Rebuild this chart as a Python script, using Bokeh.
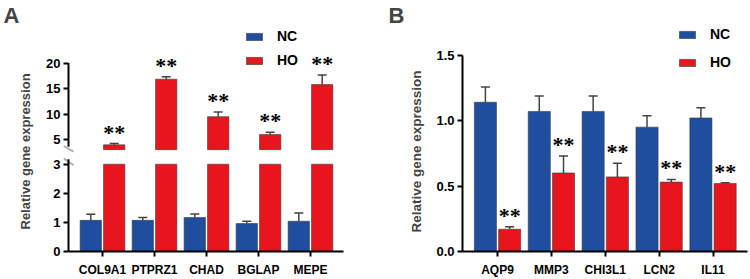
from bokeh.plotting import figure
from bokeh.layouts import row
from bokeh.models import (ColumnDataSource, FixedTicker, Whisker, TeeHead, LabelSet, Title,
                          Legend, LegendItem, Range1d, NumeralTickFormatter, PolyAnnotation)
from bokeh.transform import dodge
from bokeh.embed import file_html
from bokeh.resources import INLINE

# ---------------- data ----------------
genes_a = ["COL9A1", "PTPRZ1", "CHAD", "BGLAP", "MEPE"]
nc_a = [1.07, 1.07, 1.17, 0.96, 1.04]
nc_a_err = [0.21, 0.10, 0.12, 0.08, 0.28]
ho_a = [4.05, 16.85, 9.55, 6.05, 15.8]
ho_a_err = [0.25, 0.50, 0.90, 0.45, 1.85]

genes_b = ["AQP9", "MMP3", "CHI3L1", "LCN2", "IL11"]
nc_b = [1.14, 1.07, 1.07, 0.95, 1.02]
nc_b_err = [0.117, 0.117, 0.117, 0.087, 0.078]
ho_b = [0.17, 0.60, 0.57, 0.53, 0.52]
ho_b_err = [0.02, 0.13, 0.105, 0.02, 0.005]

sig_a = ["**", "**", "**", "**", "**"]
sig_b = ["**", "**", "**", "**", "**"]

ticks_a_low = [0, 1, 2, 3]
ticks_a_high = [5, 10, 15, 20]
ticks_b = [0.0, 0.5, 1.0, 1.5]
series = ["NC", "HO"]
y_title = "Relative gene expression"

# axis break of panel A
low_top = 3.0        # top of lower segment
high_bottom = 3.11   # bottom of upper segment

# ---------------- style ----------------
BLUE = "#1f4e9e"
RED = "#e8161c"
EDGE = "#3a3a3a"
EB = "#444444"
FONT = "Liberation Sans"
OFF = 0.225
BW = 0.41


def style_axis(ax):
    ax.axis_line_width = 2
    ax.axis_line_color = "black"
    ax.major_tick_line_width = 2
    ax.major_tick_line_color = "black"
    ax.major_tick_out = 5
    ax.major_tick_in = 0
    ax.minor_tick_line_color = None
    ax.major_label_text_font = FONT
    ax.major_label_text_font_style = "bold"
    ax.major_label_text_color = "black"
    ax.major_label_standoff = 3


def base_fig(xr, yr, left, right, bottom):
    p = figure(width=375, height=279, output_backend="svg", toolbar_location=None,
               x_range=xr, y_range=yr, min_border_left=left, min_border_right=right,
               min_border_top=24, min_border_bottom=bottom)
    p.grid.visible = False
    p.outline_line_color = None
    for ax in p.axis:
        style_axis(ax)
    p.yaxis.major_label_text_font_size = "13px"
    p.xaxis.major_label_text_font_size = "12px"
    p.xaxis.major_label_standoff = 6
    return p


def panel_title(p, letter, off):
    p.title.text = letter
    p.title.align = "left"
    p.title.offset = off
    p.title.standoff = 0
    p.title.text_font = FONT
    p.title.text_font_size = "22px"
    p.title.text_font_style = "bold"


def side_title(p, size, off, standoff):
    p.add_layout(Title(text=y_title, align="left", offset=off, standoff=standoff,
                       text_font=FONT, text_font_size=size, text_font_style="bold"), "left")


def whiskers(p, x, val, err, off, rng="default"):
    src = ColumnDataSource(dict(x=x, lower=val, upper=[v + e for v, e in zip(val, err)]))
    p.add_layout(Whisker(base=dodge("x", off), lower="lower", upper="upper", source=src,
                         dimension="height", line_color=EB, line_width=1.5, y_range_name=rng,
                         upper_head=TeeHead(size=9, line_color=EB, line_width=1.5),
                         lower_head=None))


def stars(p, x, val, err, sig, off, rng="default"):
    src = ColumnDataSource(dict(x=x, y=[v + e for v, e in zip(val, err)], t=sig))
    p.add_layout(LabelSet(x=dodge("x", off), y="y", text="t", source=src, y_range_name=rng,
                          text_align="center", text_baseline="alphabetic", y_offset=4,
                          text_font=FONT, text_font_size="22px", text_font_style="bold",
                          text_color="black"))


def legend(p, r1, r2, loc, spacing):
    p.add_layout(Legend(items=[LegendItem(label=series[0], renderers=[r1]),
                               LegendItem(label=series[1], renderers=[r2])],
                        location=loc, orientation="vertical", glyph_width=20, glyph_height=9,
                        label_standoff=13, label_text_font=FONT, label_text_font_size="14px",
                        label_text_font_style="bold", label_text_color="black",
                        spacing=spacing, padding=0, margin=0, border_line_color=None,
                        background_fill_alpha=0))


xa = list(range(1, len(genes_a) + 1))
xb = list(range(1, len(genes_b) + 1))

# ================= panel A (broken axis) =================
AX_X = 0.346                 # x where the y axis line of panel A sits
X_END_A = 5.635
TICK_W = 5 / 52              # 5 px in x data units of panel A
lo_rng = Range1d(0, 7.7)
hi_rng = Range1d(-16.74, 26.93)


def hi_to_lo(v):
    return lo_rng.start + (v - hi_rng.start) / (hi_rng.end - hi_rng.start) * (lo_rng.end - lo_rng.start)


pa = base_fig(Range1d(AX_X - TICK_W, X_END_A), lo_rng, 63, 32, 24)
pa.extra_y_ranges = {"high": hi_rng}
panel_title(pa, "A", -60)

src_a = ColumnDataSource(dict(x=xa, nc=nc_a, ho=ho_a,
                              ho_low=[min(v, low_top) for v in ho_a]))
ra1 = pa.vbar(x=dodge("x", -OFF), top="nc", width=BW, source=src_a,
              fill_color=BLUE, line_color=EDGE, line_width=0.6)
ra2 = pa.vbar(x=dodge("x", OFF), top="ho_low", width=BW, source=src_a,
              fill_color=RED, line_color=EDGE, line_width=0.6)
pa.vbar(x=dodge("x", OFF), top="ho", bottom=high_bottom, width=BW, source=src_a,
        fill_color=RED, line_color=EDGE, line_width=0.6, y_range_name="high")

# one y axis carries the ticks of both segments
tick_pos = [float(v) for v in ticks_a_low] + [hi_to_lo(v) for v in ticks_a_high]
tick_lab = [str(v) for v in ticks_a_low + ticks_a_high]
pa.yaxis.ticker = FixedTicker(ticks=tick_pos)
pa.yaxis.major_label_overrides = dict(zip(tick_pos, tick_lab))
pa.yaxis.axis_line_color = None
pa.yaxis.major_tick_out = 0
pa.yaxis.major_tick_in = 5
# the two pieces of the broken axis line
pa.segment(x0=[AX_X], y0=[ticks_a_low[0]], x1=[AX_X], y1=[3.17],
           line_color="black", line_width=2)
pa.segment(x0=[AX_X], y0=[3.68], x1=[AX_X], y1=[ticks_a_high[-1]],
           line_color="black", line_width=2, y_range_name="high")
for ys in ([3.633, 3.433], [3.2, 2.967]):
    pa.add_layout(PolyAnnotation(xs=[AX_X - TICK_W, AX_X + TICK_W], ys=ys, fill_alpha=0,
                                 line_color="black", line_width=2))

pa.xaxis.ticker = FixedTicker(ticks=xa)
pa.xaxis.major_label_overrides = {x: g for x, g in zip(xa, genes_a)}
pa.xaxis.bounds = (AX_X, X_END_A)
side_title(pa, "13px", 22, 22)

whiskers(pa, xa, nc_a, nc_a_err, -OFF)
whiskers(pa, xa, ho_a, ho_a_err, OFF, "high")
stars(pa, xa, ho_a, ho_a_err, sig_a, OFF, "high")
legend(pa, ra1, ra2, (181, 183), 8)

# ================= panel B =================
pb = base_fig(Range1d(0.35, 5.64), Range1d(0, 1.711), 87, 3, 28)
panel_title(pb, "B", -74)
src_b = ColumnDataSource(dict(x=xb, nc=nc_b, ho=ho_b))
rb1 = pb.vbar(x=dodge("x", -OFF), top="nc", width=BW, source=src_b,
              fill_color=BLUE, line_color=EDGE, line_width=0.6)
rb2 = pb.vbar(x=dodge("x", OFF), top="ho", width=BW, source=src_b,
              fill_color=RED, line_color=EDGE, line_width=0.6)
pb.yaxis.ticker = FixedTicker(ticks=ticks_b)
pb.yaxis.bounds = (0, 1.5)
pb.yaxis.formatter = NumeralTickFormatter(format="0.0")
pb.xaxis.ticker = FixedTicker(ticks=xb)
pb.xaxis.major_label_overrides = {x: g for x, g in zip(xb, genes_b)}
side_title(pb, "13.5px", 19, 20)

whiskers(pb, xb, nc_b, nc_b_err, -OFF)
whiskers(pb, xb, ho_b, ho_b_err, OFF)
stars(pb, xb, ho_b, ho_b_err, sig_b, OFF)
legend(pb, rb1, rb2, (215, 181), 12)

layout = row(pa, pb)
open("out.html", "w").write(file_html(layout, INLINE))
